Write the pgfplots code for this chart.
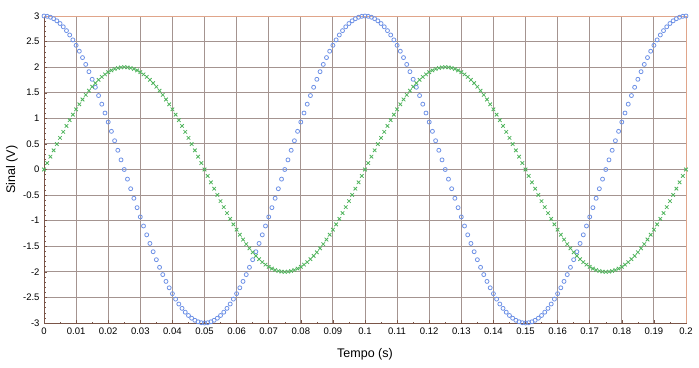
\documentclass[border=0pt]{standalone}
\usepackage{fontspec}
\setmainfont{Liberation Sans}
\usepackage{pgfplots}
\usepackage{pgfplotstable}
\pgfplotsset{compat=1.18}
\definecolor{bluepts}{HTML}{6F92E6}
\definecolor{greenpts}{HTML}{4DB35A}
\definecolor{gridc}{HTML}{A49490}
\definecolor{axisc}{HTML}{7A5548}
\definecolor{topc}{HTML}{E0A58A}
\pgfplotstableread{
t c s
0 3 0
0.001 2.994 0.126
0.002 2.976 0.251
0.003 2.947 0.375
0.004 2.906 0.497
0.005 2.853 0.618
0.006 2.789 0.736
0.007 2.714 0.852
0.008 2.629 0.964
0.009 2.533 1.072
0.010 2.427 1.176
0.011 2.312 1.275
0.012 2.187 1.369
0.013 2.054 1.458
0.014 1.912 1.541
0.015 1.763 1.618
0.016 1.607 1.689
0.017 1.445 1.753
0.018 1.277 1.810
0.019 1.104 1.860
0.020 0.927 1.902
0.021 0.746 1.937
0.022 0.562 1.965
0.023 0.376 1.984
0.024 0.188 1.996
0.025 0 2
0.026 -0.188 1.996
0.027 -0.376 1.984
0.028 -0.562 1.965
0.029 -0.746 1.937
0.030 -0.927 1.902
0.031 -1.104 1.860
0.032 -1.277 1.810
0.033 -1.445 1.753
0.034 -1.607 1.689
0.035 -1.763 1.618
0.036 -1.912 1.541
0.037 -2.054 1.458
0.038 -2.187 1.369
0.039 -2.312 1.275
0.040 -2.427 1.176
0.041 -2.533 1.072
0.042 -2.629 0.964
0.043 -2.714 0.852
0.044 -2.789 0.736
0.045 -2.853 0.618
0.046 -2.906 0.497
0.047 -2.947 0.375
0.048 -2.976 0.251
0.049 -2.994 0.126
0.050 -3 0
0.051 -2.994 -0.126
0.052 -2.976 -0.251
0.053 -2.947 -0.375
0.054 -2.906 -0.497
0.055 -2.853 -0.618
0.056 -2.789 -0.736
0.057 -2.714 -0.852
0.058 -2.629 -0.964
0.059 -2.533 -1.072
0.060 -2.427 -1.176
0.061 -2.312 -1.275
0.062 -2.187 -1.369
0.063 -2.054 -1.458
0.064 -1.912 -1.541
0.065 -1.763 -1.618
0.066 -1.607 -1.689
0.067 -1.445 -1.753
0.068 -1.277 -1.810
0.069 -1.104 -1.860
0.070 -0.927 -1.902
0.071 -0.746 -1.937
0.072 -0.562 -1.965
0.073 -0.376 -1.984
0.074 -0.188 -1.996
0.075 0 -2
0.076 0.188 -1.996
0.077 0.376 -1.984
0.078 0.562 -1.965
0.079 0.746 -1.937
0.080 0.927 -1.902
0.081 1.104 -1.860
0.082 1.277 -1.810
0.083 1.445 -1.753
0.084 1.607 -1.689
0.085 1.763 -1.618
0.086 1.912 -1.541
0.087 2.054 -1.458
0.088 2.187 -1.369
0.089 2.312 -1.275
0.090 2.427 -1.176
0.091 2.533 -1.072
0.092 2.629 -0.964
0.093 2.714 -0.852
0.094 2.789 -0.736
0.095 2.853 -0.618
0.096 2.906 -0.497
0.097 2.947 -0.375
0.098 2.976 -0.251
0.099 2.994 -0.126
0.100 3 0
0.101 2.994 0.126
0.102 2.976 0.251
0.103 2.947 0.375
0.104 2.906 0.497
0.105 2.853 0.618
0.106 2.789 0.736
0.107 2.714 0.852
0.108 2.629 0.964
0.109 2.533 1.072
0.110 2.427 1.176
0.111 2.312 1.275
0.112 2.187 1.369
0.113 2.054 1.458
0.114 1.912 1.541
0.115 1.763 1.618
0.116 1.607 1.689
0.117 1.445 1.753
0.118 1.277 1.810
0.119 1.104 1.860
0.120 0.927 1.902
0.121 0.746 1.937
0.122 0.562 1.965
0.123 0.376 1.984
0.124 0.188 1.996
0.125 0 2
0.126 -0.188 1.996
0.127 -0.376 1.984
0.128 -0.562 1.965
0.129 -0.746 1.937
0.130 -0.927 1.902
0.131 -1.104 1.860
0.132 -1.277 1.810
0.133 -1.445 1.753
0.134 -1.607 1.689
0.135 -1.763 1.618
0.136 -1.912 1.541
0.137 -2.054 1.458
0.138 -2.187 1.369
0.139 -2.312 1.275
0.140 -2.427 1.176
0.141 -2.533 1.072
0.142 -2.629 0.964
0.143 -2.714 0.852
0.144 -2.789 0.736
0.145 -2.853 0.618
0.146 -2.906 0.497
0.147 -2.947 0.375
0.148 -2.976 0.251
0.149 -2.994 0.126
0.150 -3 0
0.151 -2.994 -0.126
0.152 -2.976 -0.251
0.153 -2.947 -0.375
0.154 -2.906 -0.497
0.155 -2.853 -0.618
0.156 -2.789 -0.736
0.157 -2.714 -0.852
0.158 -2.629 -0.964
0.159 -2.533 -1.072
0.160 -2.427 -1.176
0.161 -2.312 -1.275
0.162 -2.187 -1.369
0.163 -2.054 -1.458
0.164 -1.912 -1.541
0.165 -1.763 -1.618
0.166 -1.607 -1.689
0.167 -1.445 -1.753
0.168 -1.277 -1.810
0.169 -1.104 -1.860
0.170 -0.927 -1.902
0.171 -0.746 -1.937
0.172 -0.562 -1.965
0.173 -0.376 -1.984
0.174 -0.188 -1.996
0.175 0 -2
0.176 0.188 -1.996
0.177 0.376 -1.984
0.178 0.562 -1.965
0.179 0.746 -1.937
0.180 0.927 -1.902
0.181 1.104 -1.860
0.182 1.277 -1.810
0.183 1.445 -1.753
0.184 1.607 -1.689
0.185 1.763 -1.618
0.186 1.912 -1.541
0.187 2.054 -1.458
0.188 2.187 -1.369
0.189 2.312 -1.275
0.190 2.427 -1.176
0.191 2.533 -1.072
0.192 2.629 -0.964
0.193 2.714 -0.852
0.194 2.789 -0.736
0.195 2.853 -0.618
0.196 2.906 -0.497
0.197 2.947 -0.375
0.198 2.976 -0.251
0.199 2.994 -0.126
0.200 3 0
}\sig
\begin{document}
\begin{tikzpicture}
\path (-44pt,-44pt) rectangle (655pt,323pt);
\begin{axis}[
  at={(0,0)}, anchor=south west,
  scale only axis, width=642pt, height=307pt,
  xmin=0, xmax=0.2, ymin=-3, ymax=3,
  xtick={0,0.01,...,0.2},
  xticklabels={0,0.01,0.02,0.03,0.04,0.05,0.06,0.07,0.08,0.09,0.1,0.11,0.12,0.13,0.14,0.15,0.16,0.17,0.18,0.19,0.2},
  ytick={-3,-2.5,...,3},
  yticklabels={-3,-2.5,-2,-1.5,-1,-0.5,0,0.5,1,1.5,2,2.5,3},
  minor y tick num=4, minor x tick num=1,
  tick align=inside,
  major tick length=3pt, minor tick length=1.5pt,
  xtick pos=bottom, ytick pos=left,
  every tick/.style={axisc, line width=0.5pt},
  grid=major,
  major grid style={gridc, line width=1pt},
  axis line style={axisc, line width=0.9pt},
  tick label style={font=\fontsize{9.5}{11}\selectfont, black},
  /pgf/number format/assume math mode=true,
  xticklabel style={yshift=-1pt},
  yticklabel style={xshift=-1pt},
  xlabel={\fontsize{12.5}{14}\selectfont Tempo (s)}, ylabel={\fontsize{12.5}{14}\selectfont Sinal (V)},
  every axis x label/.style={at={(axis description cs:0.5,0)}, yshift=-31pt, anchor=center, font=\fontsize{12.5}{14}\selectfont},
  every axis y label/.style={at={(axis description cs:0,0.5)}, xshift=-32pt, anchor=center, rotate=90, font=\fontsize{12.5}{14}\selectfont},
  clip=false,
]
\addplot[only marks, mark=o, mark size=2pt, bluepts, mark options={line width=0.8pt}] table[x=t, y=c] {\sig};
\addplot[only marks, mark=x, mark size=2.5pt, greenpts, mark options={line width=0.8pt}] table[x=t, y=s] {\sig};
\draw[topc, line width=0.9pt] (rel axis cs:0,1) -- (rel axis cs:1,1) -- (rel axis cs:1,0);
\end{axis}
\end{tikzpicture}
\end{document}
